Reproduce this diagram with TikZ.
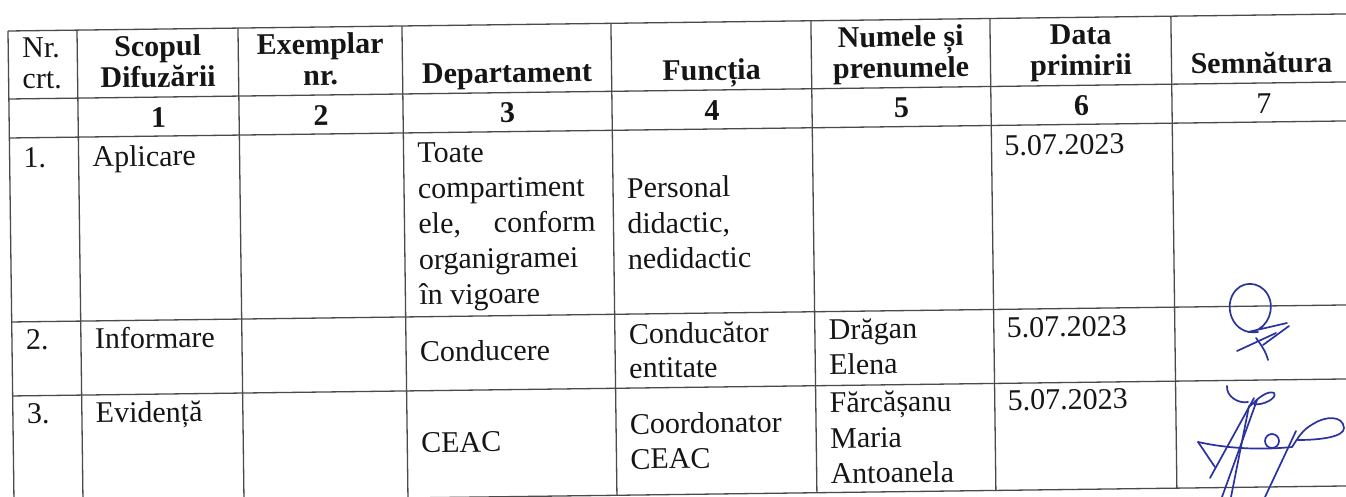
\documentclass[tikz,border=0pt]{standalone}
\usepackage{fontspec}
\setmainfont{Liberation Serif}
\definecolor{ink}{HTML}{151515}
\definecolor{gridc}{HTML}{4A4A4A}
\definecolor{inkblue}{HTML}{2A32A0}
\tikzset{
  txt/.style={inner sep=0pt, outer sep=0pt, text=ink, font=\fontsize{30}{35}\selectfont},
  lt/.style={txt, anchor=base west},
  rt/.style={txt, anchor=base east},
  ct/.style={txt, anchor=base},
  hb/.style={ct, font=\fontsize{30}{35}\selectfont\bfseries},
  rule/.style={draw=gridc, line width=1.3pt},
  sig/.style={draw=inkblue, line width=1.7pt, line cap=round, line join=round},
}
\begin{document}
\begin{tikzpicture}[x=1pt,y=1pt]
\useasboundingbox (0,0) rectangle (1346,-496);
\clip (0,0) rectangle (1346,-496);
\fill[white] (0,0) rectangle (1346,-496);
\begin{scope}[shift={(8,-31)}, rotate=0.73, transform shape]
  % horizontal rules
  \foreach \v in {0,68,107,291,365,472} \draw[rule] (0,-\v) -- (1420,-\v);
  % vertical rules
  \foreach \u in {0,69,230,394,603,803,982,1163} \draw[rule] (\u,0) -- (\u,-472);
  % header
  \node[lt] (nr) at (14,-27) {Nr.};
  \node[lt] (crt) at (14,-58) {crt.};
  \node[hb] (scop1) at (149.5,-27) {Scopul};
  \node[hb] (scop2) at (149.5,-58) {Difuzării};
  \node[hb] (ex1) at (312,-27) {Exemplar};
  \node[hb] (ex2) at (312,-58) {nr.};
  \node[hb] (dep) at (498.5,-58) {Departament};
  \node[hb] (fun) at (703,-58) {Funcția};
  \node[hb] (num1) at (892.5,-27) {Numele și};
  \node[hb] (num2) at (892.5,-58) {prenumele};
  \node[hb] (dat1) at (1072.5,-27) {Data};
  \node[hb] (dat2) at (1072.5,-58) {primirii};
  \node[hb] (sem) at (1253,-58) {Semnătura};
  % column numbers
  \node[hb] (c1) at (149.5,-98) {1};
  \node[hb] (c2) at (312,-98) {2};
  \node[hb] (c3) at (498.5,-98) {3};
  \node[hb] (c4) at (703,-98) {4};
  \node[hb] (c5) at (892.5,-98) {5};
  \node[hb] (c6) at (1072.5,-98) {6};
  \node[ct] (c7) at (1255,-98) {7};
  % row 1
  \node[lt] (r1n) at (14,-137) {1.};
  \node[lt] (r1s) at (83,-137) {Aplicare};
  \node[lt] (r1d1) at (408,-137) {Toate};
  \node[lt] (r1d2) at (408,-172.5) {compartiment};
  \node[lt] (r1d3a) at (408,-208) {ele,};
  \node[rt] (r1d3b) at (585,-208) {conform};
  \node[lt] (r1d4) at (408,-243.5) {organigramei};
  \node[lt] (r1d5) at (408,-279) {în vigoare};
  \node[lt] (r1f1) at (617,-175) {Personal};
  \node[lt] (r1f2) at (617,-210.5) {didactic,};
  \node[lt] (r1f3) at (617,-246) {nedidactic};
  \node[lt] (r1t) at (995,-137) {5.07.2023};
  % row 2
  \node[lt] (r2n) at (14,-319) {2.};
  \node[lt] (r2s) at (83,-319) {Informare};
  \node[lt] (r2d) at (408,-336) {Conducere};
  \node[lt] (r2f1) at (617,-321) {Conducător};
  \node[lt] (r2f2) at (617,-355) {entitate};
  \node[lt] (r2p1) at (817,-319) {Drăgan};
  \node[lt] (r2p2) at (817,-354) {Elena};
  \node[lt] (r2t) at (995,-319) {5.07.2023};
  % row 3
  \node[lt] (r3n) at (14,-393) {3.};
  \node[lt] (r3s) at (83,-393) {Evidență};
  \node[lt] (r3d) at (408,-427) {CEAC};
  \node[lt] (r3f1) at (617,-411) {Coordonator};
  \node[lt] (r3f2) at (617,-446) {CEAC};
  \node[lt] (r3p1) at (817,-392) {Fărcășanu};
  \node[lt] (r3p2) at (817,-427.5) {Maria};
  \node[lt] (r3p3) at (817,-463) {Antoanela};
  \node[lt] (r3t) at (995,-392) {5.07.2023};
\end{scope}
% signature 1
\draw[sig] (1258,-332) .. controls (1232,-336) and (1222,-305) .. (1236,-290)
  .. controls (1246,-279) and (1265,-283) .. (1270,-300)
  .. controls (1274,-315) and (1264,-332) .. (1248,-332)
  -- (1287,-323);
\draw[sig] (1237,-351) -- (1276,-333);
\draw[sig] (1256,-338) .. controls (1262,-346) and (1266,-352) .. (1268,-360);
\draw[sig] (1263,-345) -- (1289,-326);
% signature 2
\draw[sig] (1227,-386) .. controls (1226,-396) and (1238,-404) .. (1248,-402);
\draw[sig] (1254,-398) -- (1210,-478);
\draw[sig] (1257,-400) -- (1222,-497);
\draw[sig] (1249,-406) -- (1231,-497);
\draw[sig] (1250,-406) .. controls (1258,-398) and (1268,-390) .. (1274,-393)
  .. controls (1278,-398) and (1262,-406) .. (1254,-404);
\draw[sig] (1198,-442) .. controls (1205,-452) and (1210,-460) .. (1215,-467);
\draw[sig] (1198,-442) .. controls (1230,-449) and (1262,-450) .. (1292,-447)
  .. controls (1298,-438) and (1302,-430) .. (1313,-424)
  .. controls (1325,-416) and (1343,-415) .. (1344,-428)
  .. controls (1344,-437) and (1320,-440) .. (1298,-440);
\draw[sig] (1296,-431) -- (1265,-497);
\draw[sig] (1272,-441) circle[radius=7];
\end{tikzpicture}
\end{document}
